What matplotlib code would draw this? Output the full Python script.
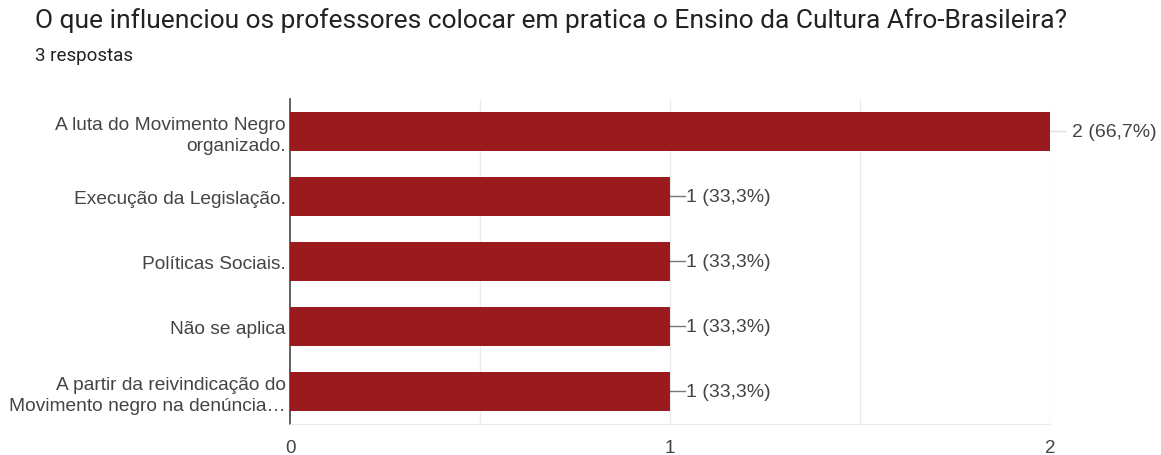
import matplotlib.pyplot as plt

plt.rcParams['font.family'] = ['Liberation Sans', 'DejaVu Sans']

categories = ['A luta do Movimento Negro\norganizado.',
              'Execução da Legislação.',
              'Políticas Sociais.',
              'Não se aplica',
              'A partir da reivindicação do\nMovimento negro na denúncia…']
counts = [2, 1, 1, 1, 1]
labels = ['2 (66,7%)', '1 (33,3%)', '1 (33,3%)', '1 (33,3%)', '1 (33,3%)']
xticks = [0, 1, 2]

fig = plt.figure(figsize=(11.61, 4.56), dpi=100)
ax = fig.add_axes([0.2498, 0.068, 0.6546, 0.7127])

ypos = range(len(categories))
ax.barh(ypos, counts, height=0.61, color='#9a1b1e', zorder=3)
ax.set_ylim(len(categories) - 0.5, -0.5)
ax.set_xlim(0, 2)

for y, v, t in zip(ypos, counts, labels):
    long_bar = v == max(counts)
    ax.plot([v, v + 0.04], [y, y], color='#e0e0e0' if long_bar else '#777777',
            lw=1, zorder=2, clip_on=False)
    ax.text(v + (0.058 if long_bar else 0.042), y, t, va='center', ha='left',
            fontsize=14, color='#444444')

for g in [0.5, 1, 1.5, 2]:
    ax.axvline(g, color='#ebebeb', lw=1, zorder=1)

ax.set_yticks(list(ypos))
ax.set_yticklabels(categories, fontsize=13.8, color='#444444', linespacing=1.3)
ax.set_xticks(xticks)
ax.set_xticklabels([str(x) for x in xticks], fontsize=13.5, color='#444444')
ax.tick_params(length=0, pad=3)
ax.tick_params(axis='x', pad=11)

for s in ['top', 'right']:
    ax.spines[s].set_visible(False)
ax.spines['bottom'].set_color('#ebebeb')
ax.spines['left'].set_color('#444444')
ax.spines['left'].set_linewidth(1.2)

fig.text(0.030, 0.955, 'O que influenciou os professores colocar em pratica o Ensino da Cultura Afro-Brasileira?',
         fontsize=19, color='#222222', va='center', ha='left', family=['Roboto', 'DejaVu Sans'])
fig.text(0.030, 0.878, '3 respostas', fontsize=13.5, color='#222222', va='center', ha='left',
         family=['Roboto', 'DejaVu Sans'])

fig.savefig('out.png', dpi=100)
